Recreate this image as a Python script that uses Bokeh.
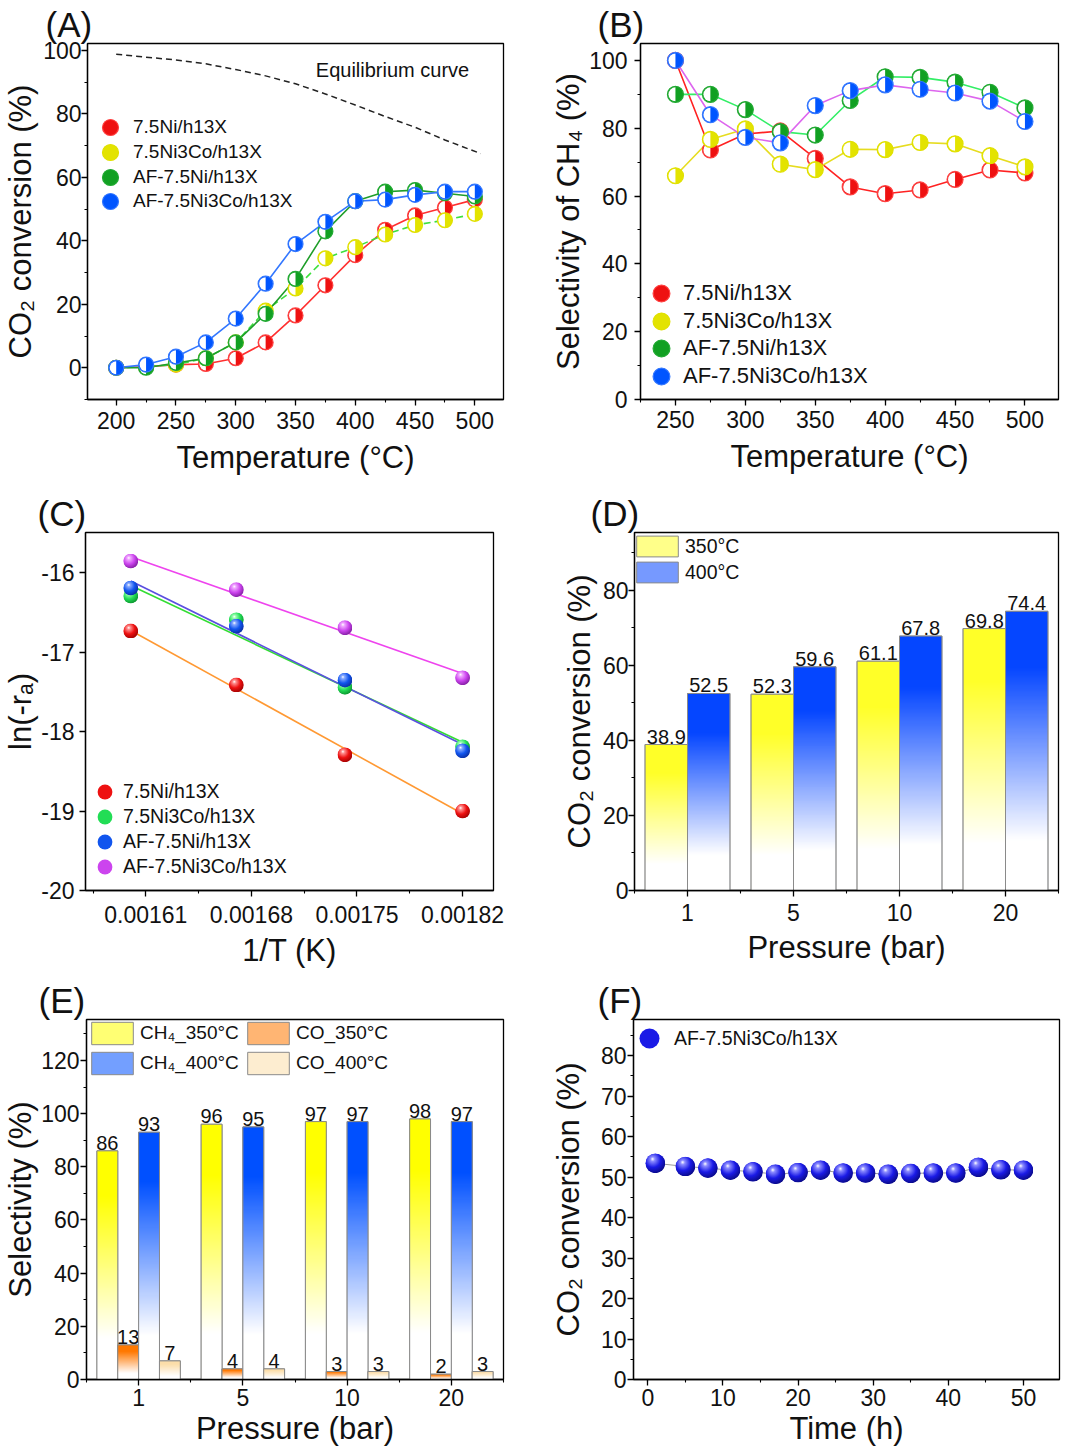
import base64
import numpy as np
from bokeh.plotting import figure
from bokeh.layouts import column, row
from bokeh.models import (Legend, LegendItem, Label, FixedTicker, SingleIntervalTicker,
                          PrintfTickFormatter, Range1d)
from bokeh.embed import file_html
from bokeh.resources import INLINE
from bokeh.core.properties import value

FONT = "Liberation Sans"

# ---------------- data ----------------
# (A) CO2 conversion vs temperature
temp_A = [200, 225, 250, 275, 300, 325, 350, 375, 400, 425, 450, 475, 500]
convA_Ni = [0, 0.3, 1, 1.2, 3, 8, 16.5, 26, 35.5, 43.5, 48, 50.5, 53]
convA_NiCo = [0, 0.3, 1, 3, 8, 18, 25, 34.5, 38, 42, 45, 46.5, 48.5]
convA_AFNi = [0, 0, 1.5, 3, 8, 17, 28, 43, 52.5, 55.5, 56, 55, 54]
convA_AFNiCo = [0, 1, 3.5, 8, 15.5, 26.5, 39, 46, 52.5, 53, 54.5, 55.5, 55.5]
eq_T = [200, 250, 275, 300, 325, 350, 375, 400, 425, 450, 475, 505]
eq_X = [98.8, 97, 95.8, 94, 92, 89.5, 86.3, 82.8, 79.2, 75.8, 71.8, 67.5]

# (B) CH4 selectivity vs temperature
temp_B = [250, 275, 300, 325, 350, 375, 400, 425, 450, 475, 500]
selB_Ni = [100, 73.6, 78.3, 79.2, 71.1, 62.7, 60.7, 61.8, 64.9, 67.7, 66.8]
selB_NiCo = [66, 76.7, 79.8, 69.4, 67.8, 73.8, 73.7, 75.8, 75.4, 71.9, 68.6]
selB_AFNi = [90, 90, 85.5, 79, 78, 88.2, 95.2, 95, 93.6, 90.6, 86]
selB_AFNiCo = [100, 84, 77.3, 75.7, 86.7, 91.1, 92.8, 91.5, 90.4, 88, 82]

# (C) Arrhenius plot
invT = [0.0016, 0.00167, 0.001742, 0.00182]
lnr_Ni = [-16.73, -17.41, -18.29, -19.0]
lnr_NiCo = [-16.29, -16.59, -17.44, -18.19]
lnr_AFNi = [-16.19, -16.67, -17.35, -18.24]
lnr_AFNiCo = [-15.85, -16.21, -16.69, -17.32]
lnr_ticks = [-20, -19, -18, -17, -16]

# (D) CO2 conversion vs pressure
pressures = ["1", "5", "10", "20"]
convD_350 = [38.9, 52.3, 61.1, 69.8]
convD_400 = [52.5, 59.6, 67.8, 74.4]

# (E) Selectivity vs pressure
selE_CH4_350 = [86, 96, 97, 98]
selE_CO_350 = [13, 4, 3, 2]
selE_CH4_400 = [93, 95, 97, 97]
selE_CO_400 = [7, 4, 3, 3]

# (F) stability
time_F = [1, 5, 8, 11, 14, 17, 20, 23, 26, 29, 32, 35, 38, 41, 44, 47, 50]
convF = [53.4, 52.6, 52.2, 51.7, 51.3, 50.7, 51.1, 51.7, 51.0, 51.0, 50.7, 50.9, 51.0, 51.0, 52.4, 51.8, 51.7]

series_names = ["7.5Ni/h13X", "7.5Ni3Co/h13X", "AF-7.5Ni/h13X", "AF-7.5Ni3Co/h13X"]


# ---------------- helpers ----------------
def make_fig(title, xr, yr, xlabel, ylabel, w, h, bl, br, bt, bb, toff,
             xs1=6, xs2=8, ys1=1, ys2=2):
    p = figure(width=w, height=h, x_range=xr, y_range=yr, output_backend="svg",
               toolbar_location=None, tools="", title=title,
               x_axis_label=xlabel, y_axis_label=ylabel,
               min_border_left=bl, min_border_right=br, min_border_top=bt, min_border_bottom=bb)
    p.title.text_font = FONT
    p.title.text_font_size = "35px"
    p.title.text_font_style = "normal"
    p.title.text_color = "#111111"
    p.title.offset = toff
    p.title.standoff = 0
    p.outline_line_color = "black"
    p.outline_line_width = 1.3
    p.outline_line_alpha = 1
    p.xgrid.visible = False
    p.ygrid.visible = False
    p.background_fill_color = "white"
    p.border_fill_color = "white"
    for ax in list(p.xaxis) + list(p.yaxis):
        ax.axis_line_color = "black"
        ax.axis_line_width = 1.3
        ax.major_tick_out = 6
        ax.major_tick_in = 0
        ax.minor_tick_out = 3
        ax.minor_tick_in = 0
        ax.major_tick_line_width = 1.3
        ax.minor_tick_line_width = 1.1
        ax.major_tick_line_color = "black"
        ax.minor_tick_line_color = "black"
        ax.major_label_text_font = FONT
        ax.major_label_text_font_size = "23px"
        ax.major_label_text_color = "#111111"
        ax.axis_label_text_font = FONT
        ax.axis_label_text_font_size = "31px"
        ax.axis_label_text_font_style = "normal"
        ax.axis_label_text_color = "#111111"
    for ax in p.xaxis:
        ax.major_label_standoff = xs1
        ax.axis_label_standoff = xs2
    for ax in p.yaxis:
        ax.major_label_standoff = ys1
        ax.axis_label_standoff = ys2
    return p


def make_legend(items, loc, gw, gh, spacing, standoff, fs, **kw):
    return Legend(items=items, location=loc, glyph_width=gw, glyph_height=gh,
                  spacing=spacing, label_standoff=standoff, label_text_font=FONT,
                  label_text_font_size=fs, label_text_color="#111111",
                  padding=0, margin=0, border_line_color=None,
                  background_fill_alpha=0, **kw)


def stacked_legends(p, names, rends, x, y0, pitch, g, standoff, fs):
    # one legend per entry, so that the marker can be big while entries stay close
    for i, (n, r) in enumerate(zip(names, rends)):
        p.add_layout(make_legend([LegendItem(label=n, renderers=[r])],
                                 (x, y0 - i * pitch), g, g, 0, standoff, fs))


def half_markers(p, x, y, fill, edge, size):
    r = p.scatter(x, y, size=size, fill_color=fill, line_color=edge, line_width=1.2)
    p.wedge(x, y, radius=size / 2 - 1.0, radius_units="screen",
            start_angle=np.pi / 2, end_angle=3 * np.pi / 2,
            fill_color="white", line_color=None)
    return r


def sphere_uri(c, light, dark):
    svg = ("<svg xmlns='http://www.w3.org/2000/svg' width='64' height='64' viewBox='0 0 64 64'>"
           "<defs><radialGradient id='g' cx='0.4' cy='0.36' r='0.7' fx='0.36' fy='0.28'>"
           "<stop offset='0' stop-color='#ffffff'/>"
           f"<stop offset='0.16' stop-color='{light}'/>"
           f"<stop offset='0.55' stop-color='{c}'/>"
           f"<stop offset='1' stop-color='{dark}'/>"
           "</radialGradient></defs>"
           "<circle cx='32' cy='32' r='31.5' fill='url(#g)'/></svg>")
    return "data:image/svg+xml;base64," + base64.b64encode(svg.encode()).decode()


def spheres(p, x, y, c, light, dark, size):
    r = p.scatter(x, y, size=size - 1, fill_color=c, line_color=None)
    p.image_url(url=[sphere_uri(c, light, dark)] * len(x), x=x, y=y, w=size, h=size,
                w_units="screen", h_units="screen", anchor="center")
    return r


def grad_img(rgb, n=240, lo=0.18, hi=0.8):
    hh = (np.arange(n) + 0.5) / n
    t = np.clip((hh - lo) / (hi - lo), 0, 1)
    arr = np.empty((n, 1, 4), dtype=np.uint8)
    for k in range(3):
        arr[:, 0, k] = np.round(255 + (rgb[k] - 255) * t).astype(np.uint8)
    arr[:, 0, 3] = 255
    return arr.view(np.uint32).reshape(n, 1)


def grad_bars(p, xs_left, width, vals, rgb, labels, fs):
    n = len(vals)
    mid = "#%02x%02x%02x" % tuple(int(round(255 + (c - 255) * 0.55)) for c in rgb)
    xc = [x + width / 2 for x in xs_left]
    base = p.vbar(x=xc, width=width, top=vals, bottom=0, fill_color=mid,
                  line_color="#8a8a8a", line_width=1)
    img = grad_img(rgb)
    p.image_rgba(image=[img] * n, x=xs_left, y=[0] * n, dw=[width] * n, dh=vals)
    p.vbar(x=xc, width=width, top=vals, bottom=0, fill_color=None,
           line_color="#8a8a8a", line_width=1)
    p.text(x=xc, y=vals, text=labels, text_align="center", text_baseline="bottom",
           y_offset=-1, text_font=value(FONT), text_font_size=value(fs), text_color="#111111")
    return base


# ---------------- (A) ----------------
pA = make_fig("(A)", Range1d(176, 524), Range1d(-10, 102.2), "Temperature (°C)",
              "CO₂ conversion (%)", 540, 490, 87, 37, 43, 91, -42, xs1=6, xs2=8, ys1=0, ys2=2)
pA.xaxis.ticker = SingleIntervalTicker(interval=50, num_minor_ticks=2)
pA.yaxis.ticker = SingleIntervalTicker(interval=20, num_minor_ticks=2)
pA.line(eq_T, eq_X, line_color="#222222", line_dash="6 4", line_width=1.5)
pA.add_layout(Label(x=367, y=93.7, text="Equilibrium curve", text_font=FONT,
                    text_font_size="20px", text_baseline="middle", text_color="#111111"))
pA.line(temp_A, convA_Ni, line_color="#ff3030", line_width=1.6)
pA.line(temp_A, convA_NiCo, line_color="#3ee03e", line_width=1.6, line_dash="7 4")
pA.line(temp_A, convA_AFNi, line_color="#1f9e2a", line_width=1.6)
pA.line(temp_A, convA_AFNiCo, line_color="#3377ff", line_width=1.6)
rA = [half_markers(pA, temp_A, convA_Ni, "#ee1111", "#ff4040", 15),
      half_markers(pA, temp_A, convA_NiCo, "#e3e300", "#e0e000", 15),
      half_markers(pA, temp_A, convA_AFNi, "#11a022", "#22aa33", 15),
      half_markers(pA, temp_A, convA_AFNiCo, "#0055ff", "#3377ff", 15)]
stacked_legends(pA, series_names, rA, 3, 252, 24.8, 40, 3, "19px")

# ---------------- (B) ----------------
pB = make_fig("(B)", Range1d(225, 524), Range1d(0, 105), "Temperature (°C)",
              "Selectivity of CH₄ (%)", 540, 490, 100, 22, 43, 91, -43, xs1=5, xs2=8, ys1=7, ys2=0)
pB.xaxis.ticker = SingleIntervalTicker(interval=50, num_minor_ticks=2)
pB.yaxis.ticker = SingleIntervalTicker(interval=20, num_minor_ticks=2)
pB.line(temp_B, selB_Ni, line_color="#ff2222", line_width=1.6)
pB.line(temp_B, selB_NiCo, line_color="#e6dc20", line_width=1.6)
pB.line(temp_B, selB_AFNi, line_color="#33ee66", line_width=1.6)
pB.line(temp_B, selB_AFNiCo, line_color="#dd66ee", line_width=1.6)
rB = [half_markers(pB, temp_B, selB_Ni, "#ee1111", "#ff4040", 16),
      half_markers(pB, temp_B, selB_NiCo, "#e3e300", "#e0e000", 16),
      half_markers(pB, temp_B, selB_AFNi, "#11a022", "#22aa33", 16),
      half_markers(pB, temp_B, selB_AFNiCo, "#0055ff", "#3377ff", 16)]
stacked_legends(pB, series_names, rB, 0, 85, 27.6, 42, 1, "22px")

# ---------------- (C) ----------------
pC = make_fig("(C)", Range1d(0.00157, 0.0018405), Range1d(-20, -15.49), "1/T (K)",
              "ln(-rₐ)", 540, 488, 80, 47, 42, 88, -48, xs1=9, xs2=7, ys1=5, ys2=0)
pC.xaxis.ticker = FixedTicker(ticks=[0.00161, 0.00168, 0.00175, 0.00182],
                              minor_ticks=[0.001575, 0.001645, 0.001715, 0.001785])
pC.xaxis.formatter = PrintfTickFormatter(format="%.5f")
pC.yaxis.ticker = FixedTicker(ticks=lnr_ticks, minor_ticks=[])
pC.yaxis.major_label_overrides = {t: f"{t:d}" for t in lnr_ticks}
c_series = [(lnr_Ni, "#ee1111", "#ff9090", "#990000", "#ff9933"),
            (lnr_NiCo, "#22dd55", "#99ffb0", "#0a8a2a", "#33dd33"),
            (lnr_AFNi, "#1155ee", "#88aaff", "#0a2a99", "#5a4fe0"),
            (lnr_AFNiCo, "#cc44ee", "#f0a8ff", "#7a1a99", "#ee44ee")]
for ys, c, light, dark, lc in c_series:
    coef = np.polyfit(invT, ys, 1)
    xs_fit = [min(invT), max(invT)]
    pC.line(xs_fit, list(np.polyval(coef, xs_fit)), line_color=lc, line_width=1.6)
rC = [spheres(pC, invT, ys, c, light, dark, 15) for ys, c, light, dark, lc in c_series]
stacked_legends(pC, series_names, rC, 1, 80.5, 25, 37, 0, "19.5px")

# ---------------- (D) ----------------
idx = list(range(len(pressures)))
pD = make_fig("(D)", Range1d(-0.5, 3.5), Range1d(0, 95.4), "Pressure (bar)",
              "CO₂ conversion (%)", 540, 488, 94, 22, 42, 88, -44, xs1=7, xs2=6, ys1=0, ys2=3)
pD.xaxis.ticker = FixedTicker(ticks=idx, minor_ticks=[i - 0.5 for i in idx] + [idx[-1] + 0.5])
pD.xaxis.major_label_overrides = {i: s for i, s in zip(idx, pressures)}
pD.yaxis.ticker = SingleIntervalTicker(interval=20, num_minor_ticks=2)
bD1 = grad_bars(pD, [i - 0.4 for i in idx], 0.4, convD_350, (255, 255, 40),
                [f"{v:.1f}" for v in convD_350], "20px")
bD2 = grad_bars(pD, [i for i in idx], 0.4, convD_400, (5, 70, 255),
                [f"{v:.1f}" for v in convD_400], "20px")
pD.add_layout(make_legend([LegendItem(label="350°C", renderers=[bD1]),
                           LegendItem(label="400°C", renderers=[bD2])],
                          (-3, 305), 52, 26, 0, 2, "19.5px"))

# ---------------- (E) ----------------
pE = make_fig("(E)", Range1d(-0.5, 3.5), Range1d(0, 135.4), "Pressure (bar)",
              "Selectivity (%)", 540, 474, 83, 37, 41, 73, -48, xs1=3, xs2=2, ys1=1, ys2=0)
pE.xaxis.ticker = FixedTicker(ticks=idx, minor_ticks=[i - 0.5 for i in idx] + [idx[-1] + 0.5])
pE.xaxis.major_label_overrides = {i: s for i, s in zip(idx, pressures)}
pE.yaxis.ticker = SingleIntervalTicker(interval=20, num_minor_ticks=2)
bE1 = grad_bars(pE, [i - 0.4 for i in idx], 0.2, selE_CH4_350, (255, 255, 0),
                [f"{v:.0f}" for v in selE_CH4_350], "20px")
bE2 = grad_bars(pE, [i - 0.2 for i in idx], 0.2, selE_CO_350, (255, 120, 0),
                [f"{v:.0f}" for v in selE_CO_350], "20px")
bE3 = grad_bars(pE, [i for i in idx], 0.2, selE_CH4_400, (0, 80, 255),
                [f"{v:.0f}" for v in selE_CH4_400], "20px")
bE4 = grad_bars(pE, [i + 0.2 for i in idx], 0.2, selE_CO_400, (252, 222, 170),
                [f"{v:.0f}" for v in selE_CO_400], "20px")
pE.add_layout(make_legend([LegendItem(label="CH₄_350°C", renderers=[bE1]),
                           LegendItem(label="CH₄_400°C", renderers=[bE3]),
                           LegendItem(label="CO_350°C", renderers=[bE2]),
                           LegendItem(label="CO_400°C", renderers=[bE4])],
                          "top_left", 52, 28, 2, 2, "19px", ncols=2, label_width=100))

# ---------------- (F) ----------------
pF = make_fig("(F)", Range1d(-1.9, 54.8), Range1d(0, 88.9), "Time (h)",
              "CO₂ conversion (%)", 540, 474, 93, 21, 41, 73, -36, xs1=3, xs2=2, ys1=1, ys2=12)
pF.xaxis.ticker = SingleIntervalTicker(interval=10, num_minor_ticks=2)
pF.yaxis.ticker = SingleIntervalTicker(interval=10, num_minor_ticks=2)
pF.line(time_F, convF, line_color="#9a9a9a", line_width=1)
rF = spheres(pF, time_F, convF, "#1a1ae6", "#8c8cff", "#08087a", 20)
pF.add_layout(make_legend([LegendItem(label="AF-7.5Ni3Co/h13X", renderers=[rF])],
                          (-9, 316), 50, 50, 0, -6, "19.5px"))

layout = column(row(pA, pB), row(pC, pD), row(pE, pF))
open("out.html", "w").write(file_html(layout, INLINE))
